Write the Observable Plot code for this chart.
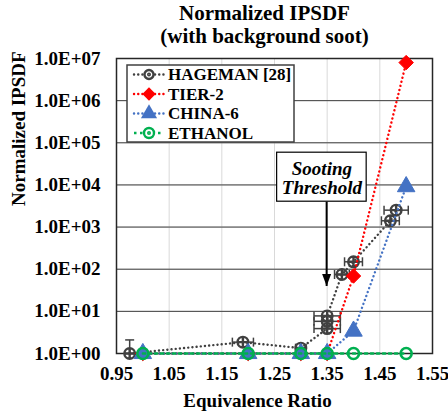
<!DOCTYPE html>
<html><head><meta charset="utf-8">
<script src="https://cdn.jsdelivr.net/npm/d3@7"></script>
<script src="https://cdn.jsdelivr.net/npm/@observablehq/plot@0.6"></script>
<style>
html,body{margin:0;padding:0;background:#fff;}
svg{font-family:"Liberation Serif","Times New Roman",serif;}
</style></head><body><div id="chart"></div>
<script>
// ---- data ----
const seriesNames = ["HAGEMAN [28]", "TIER-2", "CHINA-6", "ETHANOL"];
const seriesColors = ["#404040", "#ff0000", "#4472c4", "#00b050"];

const hagemanX = [0.975, 1.19, 1.30, 1.35, 1.35, 1.35, 1.378, 1.40, 1.47, 1.481];
const hagemanY = [1.0, 1.86, 1.34, 3.9, 5.8, 7.8, 75, 150, 1410, 2520];
const hagemanXErr = [0, 0.02, 0.01, 0.025, 0.025, 0.025, 0.014, 0.017, 0.017, 0.023];
const hagemanYUpper = [2.1, null, null, null, null, null, null, null, null, null];

const tier2X = [1.00, 1.20, 1.30, 1.35, 1.40, 1.50];
const tier2Y = [1, 1, 1, 1, 69, 8.0e6];
const china6X = [1.00, 1.20, 1.30, 1.35, 1.40, 1.50];
const china6Y = [1, 1, 1, 1, 3.4, 9100];
const ethanolX = [1.00, 1.20, 1.30, 1.35, 1.40, 1.50];
const ethanolY = [1, 1, 1, 1, 1, 1];

const xTicks = [0.95, 1.05, 1.15, 1.25, 1.35, 1.45, 1.55];
const yTicks = [1, 1e1, 1e2, 1e3, 1e4, 1e5, 1e6, 1e7];

const titleLines = ["Normalized IPSDF", "(with background soot)"];
const xLabel = "Equivalence Ratio";
const yLabel = "Normalized IPSDF";
const noteText = "Sooting\nThreshold";
const noteBoxX = [1.255, 1.425];
const noteBoxY = [4000, 58200];
const noteTextPos = [1.34, 14500];
const arrowX = [1.349];
const arrowY = [4000, 40];

// ---- helpers ----
const zip = (xs, ys) => xs.map((x, i) => ({x, y: ys[i], i}));
const hageman = hagemanX.map((x, i) => ({x, y: hagemanY[i], e: hagemanXErr[i], up: hagemanYUpper[i]}));
const hagErr = hageman.filter(d => d.e > 0);
const hagUp = hageman.filter(d => d.up != null);
const tier2 = zip(tier2X, tier2Y);
const china6 = zip(china6X, china6Y);
const ethanol = zip(ethanolX, ethanolY);

const vcap = {draw(ctx) { ctx.moveTo(0, -4.5); ctx.lineTo(0, 4.5); }};
const hcap = {draw(ctx) { ctx.moveTo(-4.5, 0); ctx.lineTo(4.5, 0); }};
const ringPlus = {draw(ctx, size) {
  const r = Math.sqrt(size / Math.PI);
  ctx.moveTo(r, 0); ctx.arc(0, 0, r, 0, 2 * Math.PI);
  ctx.moveTo(-r, 0); ctx.lineTo(r, 0);
  ctx.moveTo(0, -r); ctx.lineTo(0, r);
}};
const ringDot = {draw(ctx, size) {
  const r = Math.sqrt(size / Math.PI);
  ctx.moveTo(r, 0); ctx.arc(0, 0, r, 0, 2 * Math.PI);
  ctx.moveTo(0.8, 0); ctx.arc(0, 0, 0.8, 0, 2 * Math.PI);
}};
const arrowHead = {draw(ctx) { ctx.moveTo(0, 0); ctx.lineTo(-4.5, -12); ctx.lineTo(4.5, -12); ctx.closePath(); }};

const fmtE = d => "1.0E+" + String(Math.round(Math.log10(d))).padStart(2, "0");
const dotted = {strokeWidth: 2.4, strokeDasharray: "0.1,4.1", strokeLinecap: "round"};
const FONT = "'Liberation Serif','Times New Roman',serif";

const plot = Plot.plot({
  width: 448, height: 415,
  marginLeft: 116, marginRight: 16, marginTop: 58, marginBottom: 62,
  style: {fontFamily: FONT, fontSize: "19px", fontWeight: "bold", color: "#000", background: "#fff", overflow: "visible"},
  x: {domain: [0.95, 1.55]},
  y: {type: "log", domain: [1, 1e7]},
  marks: [
    Plot.gridX(xTicks.slice(1, -1), {stroke: "#d9d9d9", strokeOpacity: 1, strokeWidth: 1}),
    Plot.gridY(yTicks.slice(1, -1), {stroke: "#d9d9d9", strokeOpacity: 1, strokeWidth: 1}),
    Plot.axisX(xTicks, {tickSize: 0, tickPadding: 13, tickFormat: d3.format(".2f"), label: null, fontSize: 19, fontWeight: "bold"}),
    Plot.axisY(yTicks, {tickSize: 0, tickPadding: 16, tickFormat: fmtE, label: null, fontSize: 19, fontWeight: "bold"}),
    Plot.tickY(yTicks.slice(1, -1), {y: d => d, x1: 0.95, x2: 0.9595, stroke: "#404040", strokeWidth: 1}),
    Plot.frame({stroke: "#262626", strokeWidth: 1.5}),
    // annotation box
    Plot.rect([0], {x1: noteBoxX[0], x2: noteBoxX[1], y1: noteBoxY[0], y2: noteBoxY[1], fill: "white", stroke: "#000", strokeWidth: 1.2}),
    Plot.text([noteText], {x: noteTextPos[0], y: noteTextPos[1], fontStyle: "italic", fontWeight: "bold", fontSize: 19, lineHeight: 1.05, fill: "#000"}),
    // HAGEMAN
    Plot.link(hagErr, {x1: d => d.x - d.e, x2: d => d.x + d.e, y1: "y", y2: "y", stroke: seriesColors[0], strokeWidth: 1.5}),
    Plot.dot(hagErr, {x: d => d.x - d.e, y: "y", symbol: vcap, stroke: seriesColors[0], strokeWidth: 1.5}),
    Plot.dot(hagErr, {x: d => d.x + d.e, y: "y", symbol: vcap, stroke: seriesColors[0], strokeWidth: 1.5}),
    Plot.link(hagUp, {x1: "x", x2: "x", y1: "y", y2: "up", stroke: seriesColors[0], strokeWidth: 1.5}),
    Plot.dot(hagUp, {x: "x", y: "up", symbol: hcap, stroke: seriesColors[0], strokeWidth: 1.5}),
    Plot.line(hageman, {x: "x", y: "y", stroke: seriesColors[0], ...dotted}),
    Plot.dot(hageman, {x: "x", y: "y", r: 5.3, symbol: ringPlus, fill: "none", stroke: seriesColors[0], strokeWidth: 2.4}),
    // TIER-2
    Plot.line(tier2, {x: "x", y: "y", stroke: seriesColors[1], ...dotted}),
    Plot.dot(tier2, {x: "x", y: "y", r: 6.5, symbol: "diamond2", fill: seriesColors[1], stroke: seriesColors[1], strokeWidth: 1}),
    // CHINA-6
    Plot.line(china6, {x: "x", y: "y", stroke: seriesColors[2], ...dotted}),
    Plot.dot(china6, {x: "x", y: "y", r: 6.5, symbol: "triangle", fill: seriesColors[2], stroke: seriesColors[2], strokeWidth: 1}),
    // ETHANOL
    Plot.line(ethanol, {x: "x", y: "y", stroke: seriesColors[3], strokeWidth: 2.4, strokeDasharray: "2.5,3.5"}),
    Plot.dot(ethanol, {x: "x", y: "y", r: 5.5, fill: "none", stroke: seriesColors[3], strokeWidth: 2.6}),
    // arrow
    Plot.link([0], {x1: arrowX[0], x2: arrowX[0], y1: arrowY[0], y2: arrowY[1], stroke: "#000", strokeWidth: 2}),
    Plot.dot([0], {x: arrowX[0], y: arrowY[1], symbol: arrowHead, fill: "#000", stroke: "none", r: 4}),
    // titles
    Plot.text([titleLines[0]], {frameAnchor: "top", dx: -10, dy: -45, fontSize: 21, fontWeight: "bold", lineAnchor: "middle", fill: "#000"}),
    Plot.text([titleLines[1]], {frameAnchor: "top", dx: -10, dy: -22.5, fontSize: 21, fontWeight: "bold", lineAnchor: "middle", fill: "#000"}),
    Plot.text([xLabel], {frameAnchor: "bottom", dx: -17, dy: 47, fontSize: 19, fontWeight: "bold", lineAnchor: "middle", fill: "#000"}),
    Plot.text([yLabel], {frameAnchor: "left", dx: -98, dy: 0, rotate: -90, fontSize: 19, fontWeight: "bold", lineAnchor: "middle", fill: "#000"})
  ]
});

// ---- legend ----
const svg = d3.select(plot);
const lg = svg.append("g").attr("font-family", FONT).attr("font-weight", "bold").attr("font-size", 17).attr("text-anchor", "start");
lg.append("rect").attr("x", 127).attr("y", 65).attr("width", 167).attr("height", 77)
  .attr("fill", "white").attr("stroke", "#404040").attr("stroke-width", 1.5);
const rowY = [74.5, 94, 113.5, 133];
seriesNames.forEach((name, i) => {
  const y = rowY[i], c = seriesColors[i];
  lg.append("line").attr("x1", 134).attr("x2", 164).attr("y1", y).attr("y2", y)
    .attr("stroke", c).attr("stroke-width", 2.4)
    .attr("stroke-dasharray", i === 3 ? "2.5,3.5" : "0.1,4.1").attr("stroke-linecap", i === 3 ? "butt" : "round");
  const sym = i === 0 ? ringDot : i === 1 ? d3.symbolDiamond2 : i === 2 ? d3.symbolTriangle : ringDot;
  const r = i === 0 ? 4.5 : i === 3 ? 5 : 6;
  const p = lg.append("path").attr("transform", `translate(149,${y})`).attr("d", d3.symbol(sym, Math.PI * r * r)());
  if (i === 0 || i === 3) p.attr("fill", "white").attr("fill-rule", "evenodd").attr("stroke", c).attr("stroke-width", 2.4);
  else p.attr("fill", c);
  lg.append("text").attr("x", 168).attr("y", y).attr("dy", "0.33em").attr("fill", "#000").attr("text-anchor", "start").text(name);
});

document.getElementById("chart").appendChild(plot);
</script></body></html>
